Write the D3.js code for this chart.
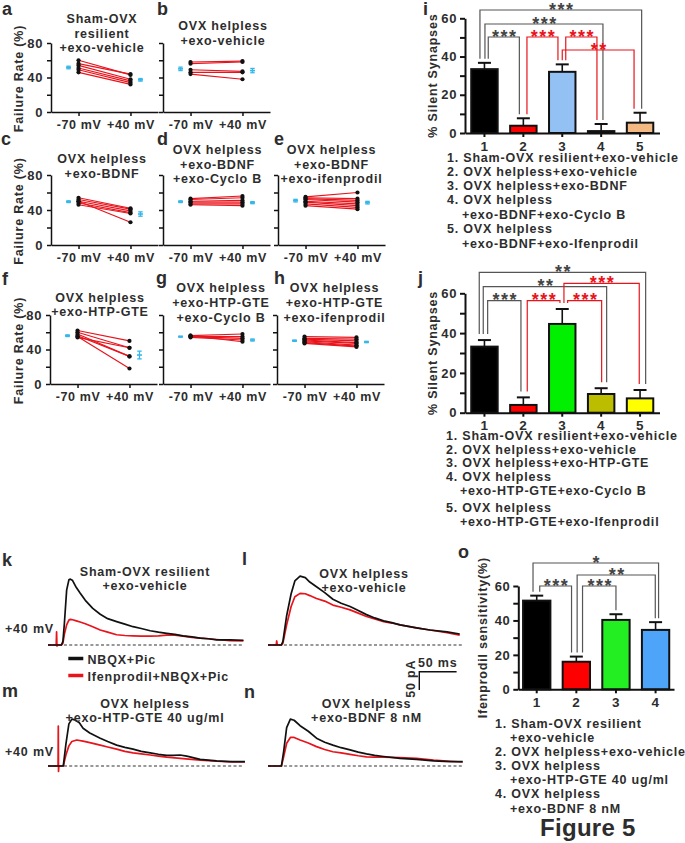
<!DOCTYPE html>
<html><head><meta charset="utf-8">
<script src="https://cdn.jsdelivr.net/npm/d3@7"></script>
<style>body{margin:0;background:#fff;}</style>
</head><body>
<script>
// ================= DATA =================
const conditions = ["-70 mV", "+40 mV"];
const failTicks = [0, 20, 40, 60, 80];
const failLabels = [0, 40, 80];

const titleA = ["Sham-OVX", "resilient", "+exo-vehicle"];
const aM70 = [60, 56, 54, 51, 49, 46];
const aP40 = [43, 44, 38, 36, 34, 32];
const aMean = [51.6, 37.3], aSem = [1.5, 1.5];

const titleB = ["OVX helpless", "+exo-vehicle"];
const bM70 = [58, 56, 49, 46, 44];
const bP40 = [59, 58, 47, 46, 38];
const bMean = [50, 48], bSem = [2, 2.5];

const titleC = ["OVX helpless", "+exo-BDNF"];
const cM70 = [54, 52, 50, 48, 46, 50];
const cP40 = [42, 41, 39, 37, 36, 26];
const cMean = [49.5, 35.4], cSem = [1, 2.5];

const titleD = ["OVX helpless", "+exo-BDNF", "+exo-Cyclo B"];
const dM70 = [53, 52, 50, 49, 47, 46];
const dP40 = [56, 54, 51, 49, 47, 45];
const dMean = [49.5, 48.4], dSem = [1, 1.2];

const titleE = ["OVX helpless", "+exo-BDNF", "+exo-ifenprodil"];
const eM70 = [55, 54, 53, 52, 50, 49, 47, 45];
const eP40 = [60, 53, 51, 49, 47, 45, 43, 41];
const eMean = [50.7, 48.4], eSem = [1.5, 1.5];

const titleF = ["OVX helpless", "+exo-HTP-GTE"];
const fM70 = [62, 60, 58, 56, 55, 54];
const fP40 = [50, 42, 32, 32, 18, 42];
const fMean = [56, 33.6], fSem = [1, 4.5];

const titleG = ["OVX helpless", "+exo-HTP-GTE", "+exo-Cyclo B"];
const gM70 = [56, 55, 55, 54, 56];
const gP40 = [58, 55, 53, 51, 49];
const gMean = [54.9, 51], gSem = [0.6, 1.2];

const titleH = ["OVX helpless", "+exo-HTP-GTE", "+exo-ifenprodil"];
const hM70 = [55, 53, 52, 51, 50, 49, 48, 47];
const hP40 = [54, 52, 50, 48, 47, 45, 44, 43];
const hMean = [50.2, 48.7], hSem = [0.8, 0.8];

// bar charts
const silentTicks = [0, 10, 20, 30, 40, 50, 60];
const silentLabels = [0, 20, 40, 60];
const groups5 = ["1", "2", "3", "4", "5"];
const silentI = [33.4, 3.8, 32, 1.0, 5.4];
const silentIErr = [3.3, 3.9, 3.9, 3.7, 5.2];
const sigI = [[0, 4, "***"], [0, 3, "***"], [0, 1, "***"], [1, 2, "***"], [2, 3, "***"], [2, 4, "**"]];
const legendI = ["1. Sham-OVX resilient+exo-vehicle", "2. OVX helpless+exo-vehicle", "3. OVX helpless+exo-BDNF",
  "4. OVX helpless", "+exo-BDNF+exo-Cyclo B", "5. OVX helpless", "+exo-BDNF+exo-Ifenprodil"];

const silentJ = [33.2, 3.9, 44.6, 9.4, 7.2];
const silentJErr = [3.3, 3.8, 7.5, 2.9, 4.2];
const sigJ = [[0, 4, "**"], [0, 3, "**"], [2, 4, "***"], [0, 1, "***"], [1, 2, "***"], [2, 3, "***"]];
const legendJ = ["1. Sham-OVX resilient+exo-vehicle", "2. OVX helpless+exo-vehicle", "3. OVX helpless+exo-HTP-GTE",
  "4. OVX helpless", "+exo-HTP-GTE+exo-Cyclo B", "5. OVX helpless", "+exo-HTP-GTE+exo-Ifenprodil"];

const groups4 = ["1", "2", "3", "4"];
const ifenSens = [51.5, 16, 40.3, 34.5];
const ifenErr = [2.9, 3, 3.3, 4.5];
const sigO = [[0, 3, "*"], [1, 3, "**"], [0, 1, "***"], [1, 2, "***"]];
const legendO = ["1. Sham-OVX resilient", "+exo-vehicle", "2. OVX helpless+exo-vehicle", "3. OVX helpless",
  "+exo-HTP-GTE 40 ug/ml", "4. OVX helpless", "+exo-BDNF 8 nM"];

// traces (time ms, current pA)
const kBlackT = [0,18,20,22,25,28,30,33,38,43,50,60,70,80,92,103,114,125,137,148,159,170,181,193,204,215,226,244,262];
const kBlackI = [0,0,10,60,150,178,180,176,157,142,122,100,84,72,64,57,50,45,39,35,32,29,25,22,19,17,14,14,13];
const kRedT = [0,10,11,11.5,12,13,18,20,22,25,28,30,33,38,43,50,60,70,80,92,103,114,125,137,148,159,170,181,193,204,215,226,244,262];
const kRedI = [0,0,0,36,-3,0,0,5,30,55,68,70,69,66,63,58,50,41,35,28,26,25,24,24,25,27,27,24,21,19,17,15,12,11];

const lBlackT = [0,18,20,25,31,36,43,50,56,65,76,87,98,110,121,132,143,155,166,177,188,199,217,240,257];
const lBlackI = [0,0,10,80,140,175,188,184,172,159,143,125,114,105,94,83,74,66,61,55,51,47,41,36,30];
const lRedT = [0,11,11.7,12.4,18,20,25,31,36,43,50,56,65,76,87,98,110,121,132,143,155,166,177,188,199,217,240,257];
const lRedI = [0,0,11,0,0,5,55,105,132,141,140,135,127,120,109,103,96,87,78,71,64,60,55,51,47,41,34,27];

const mBlackT = [0,20.5,24,28,32,36,42,47,56,70,80,92,103,114,125,137,148,159,168,177,186,204,226,244,264];
const mBlackI = [0,0,60,115,128,126,118,103,90,76,67,57,51,46,40,36,32,29,29,30,27,18,14,12,12];
const mRedT = [0,13.5,13.8,14.1,14.5,20.5,24,28,32,38.5,47,56,70,80,92,103,114,125,137,148,159,181,204,226,248,264];
const mRedI = [0,0,109,-15,0,0,30,55,67,71,68,64,57,52,46,40,36,33,30,27,24,20,16,13,11,11];

const nT = [0,18,21,25,30,35,43,54,65,76,87,98,110,121,132,143,155,177,199,222,244,261];
const nBlackI = [0,0,40,105,128,125,110,95,76,65,57,50,44,38,33,29,26,21,18,14,12,12];
const nRedI = [0,0,25,62,78,78,71,63,53,45,39,36,32,28,25,24,24,23,21,16,13,11];

// ================= STYLE / LAYOUT =================
const FONT = "'Liberation Sans', Arial, Helvetica, sans-serif";
const TXT = "#2d2d2d";
const RED = "#e8141c";
const GREY = "#555";
const BLUE = "#35b7ea";

const svg = d3.select("body").append("svg").attr("width", 685).attr("height", 843).style("display", "block");
svg.append("rect").attr("width", 685).attr("height", 843).attr("fill", "#fff");

function txt(x, y, s, o = {}) {
  const t = svg.append("text").attr("x", x).attr("y", y).text(s)
    .style("font-family", FONT).style("font-weight", "bold")
    .style("font-size", (o.size || 12.5) + "px")
    .style("fill", o.fill || TXT)
    .attr("letter-spacing", o.ls != null ? o.ls : 0.8)
    .attr("text-anchor", o.anchor || "start");
  if (o.rot) t.attr("transform", `rotate(-90,${x},${y})`);
  return t;
}
function styleAxis(g, sw, fs) {
  g.select(".domain").attr("stroke", "#111").attr("stroke-width", sw);
  g.selectAll(".tick line").attr("stroke", "#111").attr("stroke-width", sw);
  g.selectAll(".tick text").style("font-family", FONT).style("font-weight", "bold")
    .style("font-size", fs + "px").style("fill", TXT).attr("letter-spacing", 0.6);
}

// ---------- scatter panels ----------
const scatterPanels = [
  {lab: "a", lx: 2, ly: 15, ax: 51, y0: 112, y80: 43, title: titleA, tcx: 102, tb: [23.3, 37.6, 52.3], m70: aM70, p40: aP40, mean: aMean, sem: aSem, yt: true},
  {lab: "b", lx: 157, ly: 15, ax: 163, y0: 112, y80: 43, title: titleB, tcx: 223, tb: [29.5, 44.5], m70: bM70, p40: bP40, mean: bMean, sem: bSem},
  {lab: "c", lx: 1, ly: 145, ax: 51, y0: 245, y80: 175, title: titleC, tcx: 102, tb: [163.3, 177.6], m70: cM70, p40: cP40, mean: cMean, sem: cSem, yt: true},
  {lab: "d", lx: 157, ly: 145, ax: 163, y0: 245, y80: 175, title: titleD, tcx: 217.5, tb: [154.3, 169, 183], m70: dM70, p40: dP40, mean: dMean, sem: dSem},
  {lab: "e", lx: 274, ly: 145, ax: 278, y0: 245, y80: 175, title: titleE, tcx: 331.5, tb: [154.3, 169, 183], m70: eM70, p40: eP40, mean: eMean, sem: eSem},
  {lab: "f", lx: 2, ly: 285, ax: 50, y0: 384, y80: 315, title: titleF, tcx: 100, tb: [301.7, 315.6], m70: fM70, p40: fP40, mean: fMean, sem: fSem, yt: true},
  {lab: "g", lx: 156, ly: 284, ax: 163, y0: 384, y80: 315, title: titleG, tcx: 221, tb: [292.3, 307.3, 321.6], m70: gM70, p40: gP40, mean: gMean, sem: gSem},
  {lab: "h", lx: 274, ly: 284, ax: 277, y0: 384, y80: 315, title: titleH, tcx: 334.5, tb: [292.3, 307.3, 321.6], m70: hM70, p40: hP40, mean: hMean, sem: hSem}
];
const meanOffsets = [-10, 10];

scatterPanels.forEach(p => {
  const y = d3.scaleLinear().domain([0, 80]).range([p.y0, p.y80]);
  const x = d3.scalePoint().domain(conditions).range([p.ax, p.ax + 107]).padding(0.53);
  const ya = svg.append("g").attr("transform", `translate(${p.ax},0)`)
    .call(d3.axisLeft(y).tickValues(failTicks).tickSize(4).tickSizeOuter(0).tickPadding(4)
      .tickFormat(d => (p.yt && failLabels.includes(d)) ? d : ""));
  styleAxis(ya, 1.5, 13);
  const xa = svg.append("g").attr("transform", `translate(0,${p.y0})`)
    .call(d3.axisBottom(x).tickSize(4).tickSizeOuter(0).tickPadding(4));
  styleAxis(xa, 1.5, 12.5);
  // paired lines
  const g = svg.append("g");
  p.m70.forEach((v, i) => {
    g.append("line").attr("x1", x(conditions[0])).attr("y1", y(v))
      .attr("x2", x(conditions[1])).attr("y2", y(p.p40[i]))
      .attr("stroke", RED).attr("stroke-width", 1.2);
  });
  p.m70.forEach((v, i) => {
    g.append("circle").attr("cx", x(conditions[0])).attr("cy", y(v)).attr("r", 2.1).attr("fill", "#111");
    g.append("circle").attr("cx", x(conditions[1])).attr("cy", y(p.p40[i])).attr("r", 2.1).attr("fill", "#111");
  });
  // means
  p.mean.forEach((m, i) => {
    const cx = x(conditions[i]) + meanOffsets[i];
    const top = y(m + p.sem[i]), bot = y(m - p.sem[i]);
    g.append("line").attr("x1", cx).attr("x2", cx).attr("y1", top).attr("y2", bot).attr("stroke", BLUE).attr("stroke-width", 1.3);
    [top, bot].forEach(yy => g.append("line").attr("x1", cx - 2.2).attr("x2", cx + 2.2).attr("y1", yy).attr("y2", yy).attr("stroke", BLUE).attr("stroke-width", 1.3));
    g.append("line").attr("x1", cx - 2.5).attr("x2", cx + 2.5).attr("y1", y(m)).attr("y2", y(m)).attr("stroke", BLUE).attr("stroke-width", 1.6);
  });
  p.title.forEach((s, i) => txt(p.tcx, p.tb[i], s, {anchor: "middle", size: 12.5}));
  txt(p.lx, p.ly, p.lab, {size: 18, ls: 0});
  if (p.yt) txt(22.5, (p.y0 + p.y80) / 2 + 1, "Failure Rate (%)", {anchor: "middle", rot: true, size: 12.5});
});

// ---------- bar panels ----------
function barPanel(p) {
  const y = d3.scaleLinear().domain([0, 60]).range([p.y0, p.y60]);
  const x = d3.scaleBand().domain(p.groups).range([p.ax, p.axEnd]).paddingInner(p.pi).paddingOuter(p.po);
  const bw = x.bandwidth();
  const cx = i => x(p.groups[i]) + bw / 2;
  const g = svg.append("g");
  p.vals.forEach((v, i) => {
    const c = cx(i), t = y(v + p.errs[i]);
    g.append("line").attr("x1", c).attr("x2", c).attr("y1", y(v)).attr("y2", t).attr("stroke", "#111").attr("stroke-width", 1.6);
    g.append("line").attr("x1", c - 6.5).attr("x2", c + 6.5).attr("y1", t).attr("y2", t).attr("stroke", "#111").attr("stroke-width", 2);
  });
  g.selectAll("rect.bar").data(p.vals).enter().append("rect")
    .attr("x", (d, i) => x(p.groups[i])).attr("y", d => y(d))
    .attr("width", bw).attr("height", d => y(0) - y(d))
    .attr("fill", (d, i) => p.colors[i]).attr("stroke", "#111").attr("stroke-width", 2);
  const ya = svg.append("g").attr("transform", `translate(${p.ax},0)`)
    .call(d3.axisLeft(y).tickValues(silentTicks).tickSize(5).tickSizeOuter(0).tickPadding(3)
      .tickFormat(d => silentLabels.includes(d) ? d : ""));
  styleAxis(ya, 2, 13);
  const xa = svg.append("g").attr("transform", `translate(0,${p.y0})`)
    .call(d3.axisBottom(x).tickSize(4).tickSizeOuter(0).tickPadding(4));
  styleAxis(xa, 2, 13.5);
  // significance brackets
  p.sig.forEach((s, i) => {
    const L = p.sigLayout[i];
    const xa1 = cx(s[0]) + L.dxA, xb1 = cx(s[1]) + L.dxB;
    const ya1 = y(p.vals[s[0]] + p.errs[s[0]]) - p.gap;
    const yb1 = y(p.vals[s[1]] + p.errs[s[1]]) - p.gap;
    const col = L.red ? RED : GREY;
    g.append("path").attr("d", `M${xa1},${ya1}V${L.top}H${xb1}V${yb1}`)
      .attr("fill", "none").attr("stroke", col).attr("stroke-width", 1.2);
    txt((xa1 + xb1) / 2 + 1, L.top + 5.5, s[2], {anchor: "middle", size: 18, ls: 1.5, fill: L.red ? RED : "#444"});
  });
  txt(p.titleX, (p.y0 + p.y60) / 2, p.yTitle, {anchor: "middle", rot: true, size: 12.5});
  p.legend.forEach((s, i) => txt(p.legX[i], p.legY[i], s, {size: 12.5}));
}

barPanel({
  ax: 465, axEnd: 659.5, y0: 133, y60: 18.3, groups: groups5, vals: silentI, errs: silentIErr,
  colors: ["#000000", "#ff0000", "#93c1f4", "#111111", "#f4b882"], pi: 0.32, po: 0.16, gap: 4,
  sig: sigI,
  sigLayout: [
    {dxA: -4.5, dxB: 1.6, top: 10}, {dxA: 0.5, dxB: 1.8, top: 24}, {dxA: 3.8, dxB: -4, top: 37},
    {dxA: 3.6, dxB: -4.3, top: 37, red: true}, {dxA: 3.5, dxB: -4.2, top: 37, red: true}, {dxA: 0, dxB: -6, top: 50, red: true}],
  yTitle: "% Silent Synapses", titleX: 437,
  legend: legendI, legX: [447, 447, 447, 447, 462, 447, 462], legY: [161.7, 176, 190, 204.3, 219.3, 233.3, 247.6]
});

barPanel({
  ax: 465, axEnd: 659.5, y0: 412.7, y60: 293.3, groups: groups5, vals: silentJ, errs: silentJErr,
  colors: ["#000000", "#ff0000", "#00f000", "#bdbd00", "#ffff00"], pi: 0.32, po: 0.16, gap: 6,
  sig: sigJ,
  sigLayout: [
    {dxA: -5.2, dxB: 5.6, top: 272.3}, {dxA: -1.2, dxB: 5.5, top: 286.7}, {dxA: 1.7, dxB: -0.8, top: 283.3, red: true},
    {dxA: 3.2, dxB: -2.4, top: 300.7}, {dxA: 3.9, dxB: -2.3, top: 300.7, red: true}, {dxA: 5.4, dxB: 0.5, top: 300.7, red: true}],
  yTitle: "% Silent Synapses", titleX: 436.5,
  legend: legendJ, legX: [446, 446, 446, 446, 460, 446, 460], legY: [440, 453.5, 467, 480.7, 495.3, 511.5, 526]
});

barPanel({
  ax: 518.3, axEnd: 674, y0: 689.3, y60: 586, groups: groups4, vals: ifenSens, errs: ifenErr,
  colors: ["#000000", "#ff0000", "#22ee22", "#4ea4f8"], pi: 0.31, po: 0.12, gap: 4,
  sig: sigO,
  sigLayout: [
    {dxA: -3.7, dxB: 3.0, top: 563}, {dxA: 0.8, dxB: -0.3, top: 575}, {dxA: 3, dxB: -4.8, top: 586}, {dxA: 6.2, dxB: 0, top: 586}],
  yTitle: "Ifenprodil sensitivity(%)", titleX: 487.5,
  legend: legendO, legX: [495, 510, 495, 495, 510, 495, 510], legY: [727.6, 741.7, 756, 770, 784.3, 798.3, 812.7]
});

txt(423, 15, "i", {size: 18, ls: 0});
txt(418, 284, "j", {size: 18, ls: 0});
txt(458, 558, "o", {size: 18, ls: 0});

// ---------- traces ----------
const PX_PER_MS = 0.746, PX_PER_PA = 0.366;
const tracePanels = [
  {lab: "k", lx: 2, ly: 566, x0: 48, base: 645, black: [kBlackT, kBlackI], red: [kRedT, kRedI],
   title: ["Sham-OVX resilient", "+exo-vehicle"], tcx: 145, tb: [575.6, 590], mv: [5, 633.3]},
  {lab: "l", lx: 242, ly: 565, x0: 268, base: 645, black: [lBlackT, lBlackI], red: [lRedT, lRedI],
   title: ["OVX helpless", "+exo-vehicle"], tcx: 364, tb: [577.6, 591.6]},
  {lab: "m", lx: 2, ly: 697, x0: 48, base: 766, black: [mBlackT, mBlackI], red: [mRedT, mRedI],
   title: ["OVX helpless", "+exo-HTP-GTE 40 ug/ml"], tcx: 145, tb: [707.6, 722.3], mv: [5, 756]},
  {lab: "n", lx: 244, ly: 698, x0: 268, base: 766, black: [nT, nBlackI], red: [nT, nRedI],
   title: ["OVX helpless", "+exo-BDNF 8 nM"], tcx: 366.5, tb: [707.6, 722.3]}
];
tracePanels.forEach(p => {
  const x = d3.scaleLinear().domain([0, 262]).range([p.x0, p.x0 + 262 * PX_PER_MS]);
  const y = d3.scaleLinear().domain([0, 200]).range([p.base, p.base - 200 * PX_PER_PA]);
  svg.append("line").attr("x1", x(0)).attr("x2", x(262)).attr("y1", y(0)).attr("y2", y(0))
    .attr("stroke", "#333").attr("stroke-width", 1.2).attr("stroke-dasharray", "3,2.3");
  const line = d3.line().x(d => x(d[0])).y(d => y(d[1]));
  const redPts = p.red[0].map((t, i) => [t, p.red[1][i]]);
  const blackPts = p.black[0].map((t, i) => [t, p.black[1][i]]);
  svg.append("path").attr("d", line(redPts)).attr("fill", "none").attr("stroke", RED).attr("stroke-width", 1.7).attr("stroke-linejoin", "round");
  svg.append("path").attr("d", line(blackPts)).attr("fill", "none").attr("stroke", "#111").attr("stroke-width", 1.7).attr("stroke-linejoin", "round");
  p.title.forEach((s, i) => txt(p.tcx, p.tb[i], s, {anchor: "middle"}));
  txt(p.lx, p.ly, p.lab, {size: 18, ls: 0});
  if (p.mv) txt(p.mv[0], p.mv[1], "+40 mV");
});

// legend for traces
svg.append("line").attr("x1", 68.3).attr("x2", 83.3).attr("y1", 658.5).attr("y2", 658.5).attr("stroke", "#111").attr("stroke-width", 3.5);
txt(87.5, 663.5, "NBQX+Pic");
svg.append("line").attr("x1", 68.3).attr("x2", 83.3).attr("y1", 675.5).attr("y2", 675.5).attr("stroke", RED).attr("stroke-width", 3.5);
txt(87.5, 680.5, "Ifenprodil+NBQX+Pic");

// scale bar (50 ms / 50 pA)
const sbX = 419.3, sbY = 671.7;
svg.append("path").attr("d", `M${sbX + 50 * PX_PER_MS},${sbY}H${sbX}V${sbY + 50 * PX_PER_PA}`)
  .attr("fill", "none").attr("stroke", "#111").attr("stroke-width", 1.4);
txt(sbX + 18.5, 666.7, "50 ms", {anchor: "middle"});
txt(415, sbY + 7, "50 pA", {anchor: "middle", rot: true});

// figure label
txt(540, 835.5, "Figure 5", {size: 24, ls: 0.3});
</script>
</body></html>
